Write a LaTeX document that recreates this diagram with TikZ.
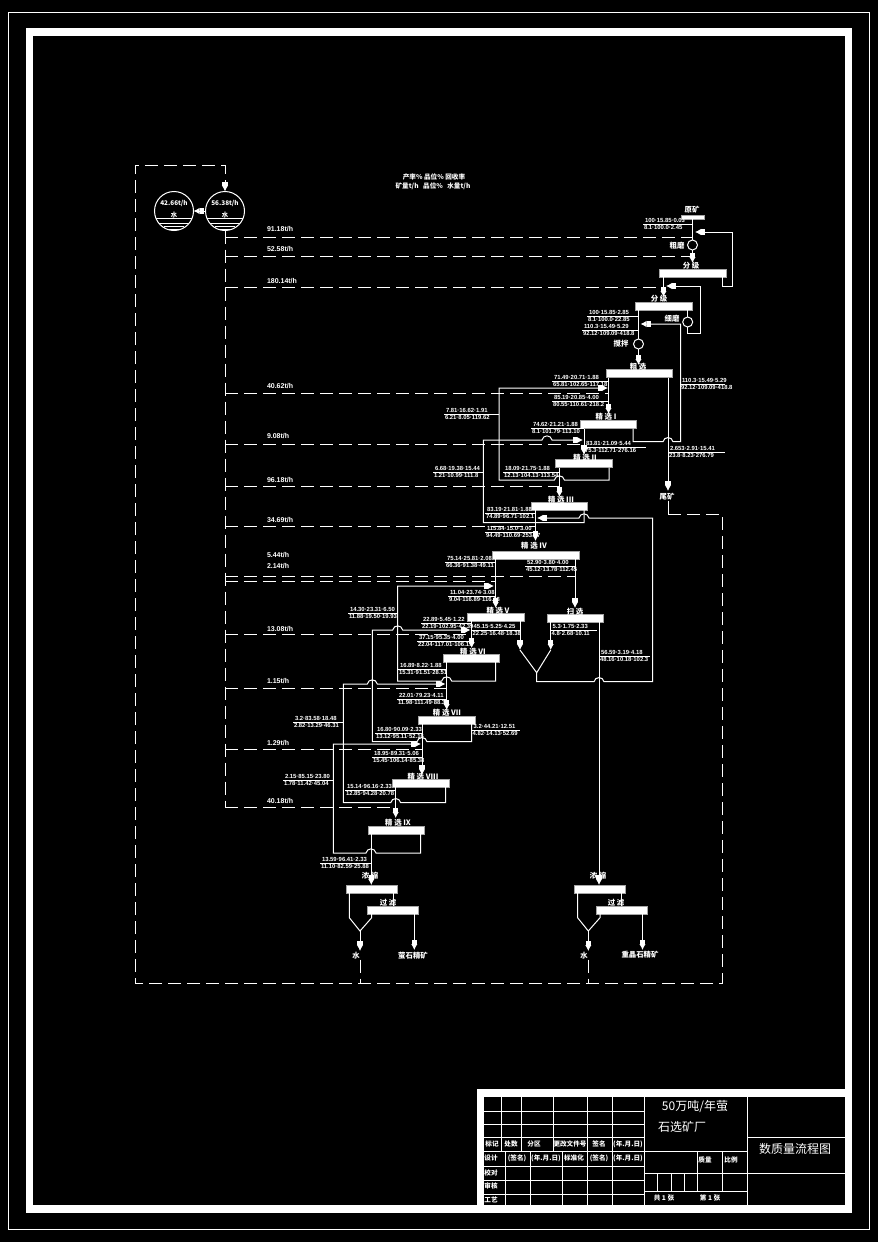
\documentclass[tikz,border=0pt]{standalone}
\usepackage{fontspec}
\setmainfont{Liberation Sans}
\newfontfamily\cjk{Noto Sans CJK SC}
\usetikzlibrary{arrows.meta,positioning}

% hump of a horizontal pipe over a vertical one: x, y, direction
\newcommand{\hop}[3]{-- ({#1-5*#3},#2) .. controls ({#1-4*#3},#2-5.5) and ({#1+4*#3},#2-5.5) .. ({#1+5*#3},#2)}
% two lines of data with a rule between them: name, left, right, y, top, bottom
\newcommand{\flowdata}[6]{%
\node[dat,anchor=west] (#1t) at (#2+2,#4-3.6) {#5};
\node[dat,anchor=west] (#1b) at (#2+1,#4+3.6) {#6};
\draw[pipe] (#2,#4) -- (#3,#4);}

\begin{document}
\begin{tikzpicture}[x=0.5pt,y=-0.5pt,
every node/.style={text=white,inner sep=0pt,outer sep=0pt},
pipe/.style={draw=white,line width=0.5pt},
flow/.style={pipe,-{Rectangle[length=2pt,width=2.6pt]Latex[length=3pt,width=3.2pt]}},
recyc/.style={draw=white,line width=0.5pt,dash pattern=on 6.5pt off 3pt},
bar/.style={fill=white,draw=gray!70,line width=0.4pt,minimum height=4pt,minimum width=#1},
roundm/.style={circle,draw=white,line width=0.5pt,minimum size=5pt},
tankc/.style={circle,draw=white,line width=0.5pt,minimum size=19.5pt},
lab/.style={font=\cjk\bfseries\fontsize{3.7}{4.4}\selectfont},
dat/.style={font=\bfseries\fontsize{2.95}{4}\selectfont},
rate/.style={font=\bfseries\fontsize{3.5}{4}\selectfont,anchor=west},
cell/.style={font=\cjk\bfseries\fontsize{3.3}{4}\selectfont},
big/.style={font=\cjk\fontsize{6}{7}\selectfont},
thinline/.style={draw=white,line width=0.5pt},
frameline/.style={draw=white,line width=3.8pt,line join=miter}]
% Sheet
\fill[black] (0,0) rectangle (878,1242);
\useasboundingbox (0,0) rectangle (878,1242);
\draw[draw=white,line width=0.6pt] (8.5,12.5) rectangle (869.5,1229.5);
\draw[frameline] (29.5,32) rectangle (848.5,1209);
\draw[frameline] (480.5,1209) |- (848.5,1093);
% Title block
\foreach \y in {1111,1124,1137,1151,1166,1180,1194} \draw[thinline] (484,\y) -- (644,\y);
\foreach \x in {501,521,553,587,612} \draw[thinline] (\x,1096) -- (\x,1151);
\foreach \x in {505,530,562,587,612} \draw[thinline] (\x,1151) -- (\x,1205);
\draw[thinline] (644,1096) -- (644,1205);
\draw[thinline] (747,1096) -- (747,1205);
\foreach \y in {1151,1173,1191} \draw[thinline] (644,\y) -- (747,\y);
\foreach \x in {697,722} \draw[thinline] (\x,1151) -- (\x,1191);
\foreach \x in {657,671,684} \draw[thinline] (\x,1173) -- (\x,1191);
\foreach \y in {1137,1173} \draw[thinline] (747,\y) -- (845,\y);
\foreach \i/\x/\y/\t in {1/492/1144/标记,2/511/1144/处数,3/534/1144/分区,4/570/1144/更改文件号,5/599/1144/签名,6/628/1144/(年.月.日),
7/491/1158/设计,8/517/1158/(签名),9/546/1158/(年.月.日),10/574/1158/标准化,11/599/1158/(签名),12/628/1158/(年.月.日),
13/491/1173/校对,14/491/1186/审核,15/491/1200/工艺,16/705/1160/质量,17/731/1160/比例,18/664/1198/共 1 张,19/710/1198/第 1 张}
  \node[cell] (cell\i) at (\x,\y) {\t};
\node[big] (title1) at (695,1106) {50万吨/年萤};
\node[big] (title2) at (682,1127) {石选矿厂};
\node[big] (title3) at (795,1149) {数质量流程图};
% Heading
\node[cell] (head1) at (434,177) {产率\% 品位\% 回收率};
\node[cell] (head2) at (433,186) {矿量t/h\ \ \ 品位\%\ \ \ 水量t/h};
% Water
\node[tankc,font=\cjk\bfseries\fontsize{3.2}{4.2}\selectfont,align=center,text depth=0pt] (tank1) at (174,211) {\raisebox{2.2pt}{\shortstack{42.66t/h\\水}}};
\node[tankc,font=\cjk\bfseries\fontsize{3.2}{4.2}\selectfont,align=center,text depth=0pt] (tank2) at (225,211) {\raisebox{2.2pt}{\shortstack{56.38t/h\\水}}};
\foreach \c in {tank1,tank2} {
  \draw[thinline] (\c.center) ++(-18.2,7) -- ++(36.4,0);
  \draw[thinline] (\c.center) ++(-15.4,12) -- ++(30.8,0);
  \draw[thinline] (\c.center) ++(-10,15) -- ++(20,0);
  \draw[thinline] (\c.center) ++(-7,18) -- ++(14,0);
}
% Nodes
\node[bar=11.5pt,minimum height=2pt] (feed) at (692.5,217) {};
\node[bar=33.5pt] (class1) at (692.5,273) {};
\node[bar=28.5pt] (class2) at (663.5,306) {};
\node[bar=33pt] (rough) at (639,373.5) {};
\node[bar=28pt] (clean1) at (608.5,424.5) {};
\node[bar=28.5pt] (clean2) at (584.2,463.5) {};
\node[bar=28pt] (clean3) at (559.8,506) {};
\node[bar=43.5pt] (clean4) at (535.5,555) {};
\node[bar=28.5pt] (clean5) at (495.8,617) {};
\node[bar=28pt] (scav) at (575,618) {};
\node[bar=28pt] (clean6) at (471.2,658) {};
\node[bar=28.5pt] (clean7) at (446.8,720) {};
\node[bar=28.5pt] (clean8) at (420.7,783) {};
\node[bar=28pt] (clean9) at (396,830) {};
\node[bar=25.5pt] (thick1) at (371.5,889) {};
\node[bar=25.5pt] (filt1) at (393.2,910) {};
\node[bar=25.5pt] (thick2) at (599.8,889) {};
\node[bar=25.5pt] (filt2) at (621.5,910) {};
\node[roundm] (mill1) at (692.5,245) {};
\node[roundm] (mill2) at (687.7,322) {};
\node[roundm] (mixer) at (638.5,344) {};
% Labels
\node[lab] (lfeed) at (692,210) {原矿};
\node[lab] (lmill1) at (677,246) {粗磨};
\node[lab] (lclass1) at (691,266) {分 级};
\node[lab] (lmill2) at (672,319) {细磨};
\node[lab] (lclass2) at (659,299) {分 级};
\node[lab] (lmixer) at (621,344) {搅拌};
\node[lab] (lrough) at (638,367) {粗 选};
\node[lab] (lclean1) at (606,417) {精 选 I};
\node[lab] (lclean2) at (585,458) {精 选 II};
\node[lab] (lclean3) at (561,500) {精 选 III};
\node[lab] (lclean4) at (534,546) {精 选 IV};
\node[lab] (lclean5) at (498,611) {精 选 V};
\node[lab] (lscav) at (575,612) {扫 选};
\node[lab] (lclean6) at (473,652) {精 选 VI};
\node[lab] (lclean7) at (447,713) {精 选 VII};
\node[lab] (lclean8) at (423,777) {精 选 VIII};
\node[lab] (lclean9) at (398,823) {精 选 IX};
\node[lab] (lthick1) at (370,876) {浓 缩};
\node[lab] (lfilt1) at (388,903) {过 滤};
\node[lab] (lthick2) at (598,876) {浓 缩};
\node[lab] (lfilt2) at (616,903) {过 滤};
\node[lab] (tail) at (667,497) {尾矿};
\node[lab] (water1) at (356,956) {水};
\node[lab] (conc1) at (413,956) {萤石精矿};
\node[lab] (water2) at (584,956) {水};
\node[lab] (conc2) at (640,955) {重晶石精矿};
% Arrow ends
\coordinate (in1) at (692.5,263);
\coordinate (in2) at (663.5,297);
\coordinate (in3) at (638.5,365);
\coordinate (in4) at (608.5,414);
\coordinate (in5) at (584,455);
\coordinate (in6) at (559.4,497);
\coordinate (in7) at (535.5,541);
\coordinate (in8) at (495.7,608);
\coordinate (in9) at (575,608);
\coordinate (in10) at (471.7,648);
\coordinate (in11) at (446.7,710);
\coordinate (in12) at (422,775);
\coordinate (in13) at (395.7,818);
\coordinate (in14) at (371.3,885);
\coordinate (in15) at (599,885);
\coordinate (out1) at (668,491);
\coordinate (back1) at (695,232);
\coordinate (back2) at (666,286);
\coordinate (back3) at (640.5,324);
\coordinate (back4) at (608,388);
\coordinate (back5) at (583,440);
\coordinate (back6) at (537,518);
\coordinate (back7) at (494,586);
\coordinate (back8) at (470.5,630);
\coordinate (back9) at (445.5,684);
\coordinate (back10) at (421,744);
\coordinate (drop1) at (633,441.7);
\coordinate (drop2) at (609,480);
\coordinate (drop3) at (584,522.7);
\coordinate (drop6) at (495.7,681);
\coordinate (drop7) at (471.7,741.7);
\coordinate (drop8) at (445.7,802.7);
\coordinate (drop9) at (420.7,853);
\coordinate (vleft) at (520,650);
\coordinate (vright) at (550.7,650);
\coordinate (vtip) at (536.7,672.7);
\coordinate (h1a) at (349.3,917.7);
\coordinate (h1b) at (371.7,917.7);
\coordinate (h1c) at (360,931);
\coordinate (h1d) at (360,951);
\coordinate (c1) at (414.3,950);
\coordinate (h2a) at (577.6,917.7);
\coordinate (h2b) at (600,917.7);
\coordinate (h2c) at (588.3,931);
\coordinate (h2d) at (588.3,951);
\coordinate (c2) at (642.5,950);
% Arrows
\draw[pipe] (feed.south) -- (mill1.north);
\draw[flow] (mill1.south) -- (in1);
\draw[flow] (class1.south -| in2) -- (in2);
\draw[pipe] (class2.south -| mill2) -- (mill2.north);
\draw[pipe] (class2.south -| mixer) -- (mixer.north);
\draw[flow] (mixer.south) -- (in3);
\draw[flow] (rough.south -| in4) -- (in4);
\draw[flow] (rough.south -| out1) -- (out1);
\draw[flow] (clean1.south -| in5) -- (in5);
\draw[flow] (clean2.south -| in6) -- (in6);
\draw[flow] (clean3.south -| in7) -- (in7);
\draw[flow] (clean4.south -| in8) -- (in8);
\draw[flow] (clean4.south -| in9) -- (in9);
\draw[flow] (clean5.south -| in10) -- (in10);
\draw[flow] (clean6.south -| in11) -- (in11);
\draw[flow] (clean7.south -| in12) -- (in12);
\draw[flow] (clean8.south -| in13) -- (in13);
\draw[flow] (clean9.south -| in14) -- (in14);
\draw[flow] (scav.south -| in15) -- (in15);
% Return lines
\draw[flow] (class1.south -| 722,0) |- (732,286) |- (back1);
\draw[flow] (mill2.south) |- (700.7,333) |- (back2);
\draw[flow] (clean1.south -| drop1) -- (drop1) \hop{668}{441.7}{1} -- (680.5,441.7) |- (back3);
\draw[flow] (clean2.south -| drop2) -- (drop2) \hop{559.4}{480}{-1} -- (499,480) |- (back4);
\draw[flow] (clean3.south -| drop3) -- (drop3) -- (483.3,522.7) -- (483.3,440) \hop{547}{440}{1} -- (back5);
\draw[flow] (vtip) -- (536.7,681.7) \hop{599}{681.7}{1} -- (652.7,681.7) -- (652.7,518) \hop{584}{518}{-1} -- (back6);
\draw[flow] (clean6.south -| drop6) -- (drop6) \hop{446.7}{681}{-1} -- (397.7,681) -- (397.7,586) -- (back7);
\draw[flow] (clean7.south -| drop7) -- (drop7) \hop{422}{741.7}{-1} -- (372.3,741.7) -- (372.3,630) \hop{397.7}{630}{1} -- (back8);
\draw[flow] (clean8.south -| drop8) -- (drop8) \hop{395.7}{802.7}{-1} -- (343.3,802.7) -- (343.3,684) \hop{372.3}{684}{1} -- (back9);
\draw[flow] (clean9.south -| drop9) -- (drop9) \hop{371}{853}{-1} -- (333.3,853) -- (333.3,744) -- (back10);
% Middlings cone
\draw[flow] (clean5.south -| vleft) -- (vleft);
\draw[flow] (scav.south -| vright) -- (vright);
\draw[pipe] (vleft) -- (vtip) -- (vright);
% Thickeners and filters
\draw[pipe] (thick1.south -| h1a) -- (h1a) -- (h1c) -- (h1b) -- (filt1.south -| h1b);
\draw[flow] (h1c) -- (h1d);
\draw[pipe] (thick1.south -| filt1) -- (filt1.north);
\draw[flow] (filt1.south -| c1) -- (c1);
\draw[pipe] (thick2.south -| h2a) -- (h2a) -- (h2c) -- (h2b) -- (filt2.south -| h2b);
\draw[flow] (h2c) -- (h2d);
\draw[pipe] (thick2.south -| filt2) -- (filt2.north);
\draw[flow] (filt2.south -| c2) -- (c2);
% Water lines
\coordinate (loop1) at (225,182);
\coordinate (loop0) at (668,514);
\draw[pipe] (tail.south -| out1) -- (loop0);
\draw[recyc] (loop0) -- (722,514) -- (722,983) -- (135,983) -- (135,165) -| (loop1);
\draw[flow] (loop1) -- (tank2.north);
\draw[flow] (tank2.west) -- (tank1.east);
\coordinate (trunk) at (225,807);
\draw[recyc] (tank2.south) -- (trunk);
\draw[recyc] (trunk) -- (trunk -| in13);
\foreach \y/\e in {237/mill1,256/in1,287/in2,393/in4,444/in5,486/in6,526/in7,576/in9,581/in8,634/in10,688/in11,749/in12} {
  \coordinate (tr\y) at (225,\y);
  \draw[recyc] (tr\y) -- (tr\y -| \e);
}
\draw[recyc] (water1.south -| h1d) -- (h1d |- 0,983);
\draw[recyc] (water2.south -| h2d) -- (h2d |- 0,983);
% Water rates
\foreach \y/\t in {229/91.18,249/52.58,281/180.14,386/40.62,436/9.08,480/96.18,520/34.69,555/5.44,566/2.14,629/13.08,681/1.15,743/1.29,801/40.18}
  \node[rate] (rate\y) at (267,\y) {\t t/h};
% Data
\flowdata{d1}{643}{692.5}{224}{100·15.85·0.03}{8.1·100.0·2.45}
\flowdata{d2}{587}{638.5}{316}{100·15.85·2.85}{8.1·100.0·22.85}
\flowdata{d3}{582}{638.5}{330}{110.3·15.49·5.29}{92.12·109.09·418.8}
\flowdata{d4}{680}{725}{384}{110.3·15.49·5.29}{92.12·109.09·418.8}
\flowdata{d5}{552}{608.5}{381}{71.49·20.71·1.88}{65.81·102.65·117.18}
\flowdata{d6}{552}{608.5}{401}{85.19·20.85·4.00}{80.55·110.61·218.2}
\flowdata{d7}{444}{499}{414}{7.81·16.62·1.91}{6.21·8.05·119.62}
\flowdata{d8}{531}{584}{428}{74.62·21.21·1.88}{8.1·101.79·113.10}
\flowdata{d9}{584}{646}{447}{83.81·21.09·5.44}{75.3·112.71·276.16}
\flowdata{d10}{668}{725}{452}{2.653·2.91·15.41}{23.8·8.23·276.79}
\flowdata{d11}{433}{483.3}{472}{6.68·19.38·15.44}{1.21·10.99·111.8}
\flowdata{d12}{503}{559.4}{472}{18.09·21.75·1.88}{12.13·104.13·113.54}
\flowdata{d13}{485}{535.5}{513}{83.19·21.81·1.88}{74.89·96.71·102.1}
\flowdata{d14}{485}{535.5}{532}{115.84·15.0·3.00}{94.49·110.69·253.47}
\flowdata{d15}{445}{495.7}{562}{75.14·25.81·2.08}{66.36·91.38·49.11}
\flowdata{d16}{525}{575}{566}{52.90·3.80·4.00}{45.12·13.78·112.45}
\flowdata{d17}{448}{495.7}{596}{11.04·23.74·3.08}{9.04·116.89·116.13}
\flowdata{d18}{348}{397.7}{613}{14.30·23.31·6.50}{11.88·19.50·19.93}
\flowdata{d19}{421}{471.7}{623}{22.89·5.45·1.22}{22.19·102.95·42.39}
\flowdata{d20}{471.7}{520}{630}{45.15·5.25·4.25}{22.25·16.48·18.38}
\flowdata{d21}{417}{471.7}{641}{37.15·95.35·4.00}{22.04·117.01·106.19}
\flowdata{d22}{550.7}{597}{630}{5.3·1.75·2.33}{4.8·2.68·10.11}
\flowdata{d23}{599}{650}{656}{56.59·3.19·4.18}{48.16·10.18·102.3}
\flowdata{d24}{398}{446.7}{669}{16.89·8.22·1.88}{15.31·91.51·28.51}
\flowdata{d25}{397}{446.7}{699}{22.01·79.23·4.11}{11.98·111.49·88.33}
\flowdata{d26}{293}{343.3}{722}{3.2·83.58·18.48}{2.82·13.29·46.31}
\flowdata{d27}{375}{422}{733}{16.80·90.09·2.33}{13.12·95.11·52.16}
\flowdata{d28}{471.7}{520}{730}{3.2·44.21·12.51}{4.82·14.13·52.69}
\flowdata{d29}{372}{422}{757}{18.95·89.31·5.06}{15.45·106.14·85.38}
\flowdata{d30}{283}{333.3}{780}{2.15·85.15·23.80}{1.78·11.42·45.04}
\flowdata{d31}{345}{395.7}{790}{15.14·96.16·2.33}{12.85·94.28·20.78}
\flowdata{d32}{320}{371}{863}{13.59·96.41·2.33}{11.10·82.59·25.88}
\end{tikzpicture}
\end{document}
